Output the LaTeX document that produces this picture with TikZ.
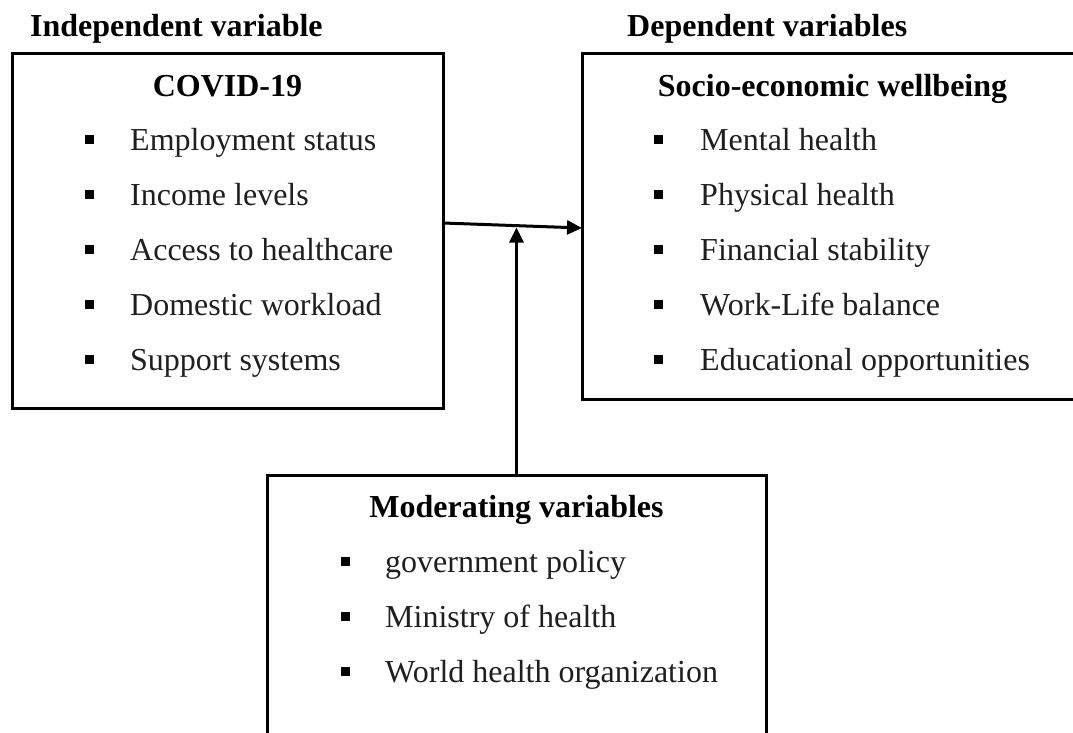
\documentclass[tikz,border=0pt]{standalone}
\usepackage{fontspec}
\setmainfont{Liberation Serif}
\usetikzlibrary{arrows.meta,calc}
\begin{document}
\begin{tikzpicture}[x=1pt,y=-1pt,
  frame/.style={draw,line width=3pt,anchor=north west,inner sep=0pt,outer sep=0pt},
  title/.style={font=\fontsize{32}{38}\selectfont\bfseries,anchor=base,inner sep=0pt},
  item/.style={font=\fontsize{32}{38}\selectfont,anchor=base west,inner sep=0pt,text=black!88},
  bulletbox/.style={fill=black,minimum size=9pt,inner sep=0pt},
  link/.style={line width=3pt,-{Triangle[length=15pt,width=14pt]}}]
\useasboundingbox (0,0) rectangle (1073,732);

% column headings
\node[title,anchor=base west] (indep) at (30,36) {Independent variable};
\node[title,anchor=base west] (dep) at (627,36) {Dependent variables};

% the three boxes
\node[frame,minimum width=431pt,minimum height=355pt] (covid) at (12,53) {};
\node[frame,minimum width=520pt,minimum height=346pt] (socio) at (582,53) {};
\node[frame,minimum width=499pt,minimum height=290pt] (moderating) at (267,475) {};

% box titles
\node[title] (covidtitle) at (227.5,96) {COVID-19};
\node[title] (sociotitle) at (832.5,96) {Socio-economic wellbeing};
\node[title] (modtitle) at (516.5,517) {Moderating variables};

% bulleted lists
\foreach \txt [count=\i from 0] in {Employment status,Income levels,Access to healthcare,Domestic workload,Support systems}{
  \node[bulletbox] (cb\i) at (89,{139.5+55*\i}) {};
  \node[item] (ct\i) at (130,{150+55*\i}) {\txt};
}
\foreach \txt [count=\i from 0] in {Mental health,Physical health,Financial stability,Work-Life balance,Educational opportunities}{
  \node[bulletbox] (sb\i) at (658,{139.5+55*\i}) {};
  \node[item] (st\i) at (700,{150+55*\i}) {\txt};
}
\foreach \txt [count=\i from 0] in {government policy,Ministry of health,World health organization}{
  \node[bulletbox] (mb\i) at (345,{561.5+55*\i}) {};
  \node[item] (mt\i) at (385,{572+55*\i}) {\txt};
}

% connectors
\draw[link] ($(covid.north east)+(0,170)$) -- ($(socio.north west)+(0,175)$);
\draw[link] (moderating.north) -- ($(moderating.north)+(0,-247.5)$);
\end{tikzpicture}
\end{document}
